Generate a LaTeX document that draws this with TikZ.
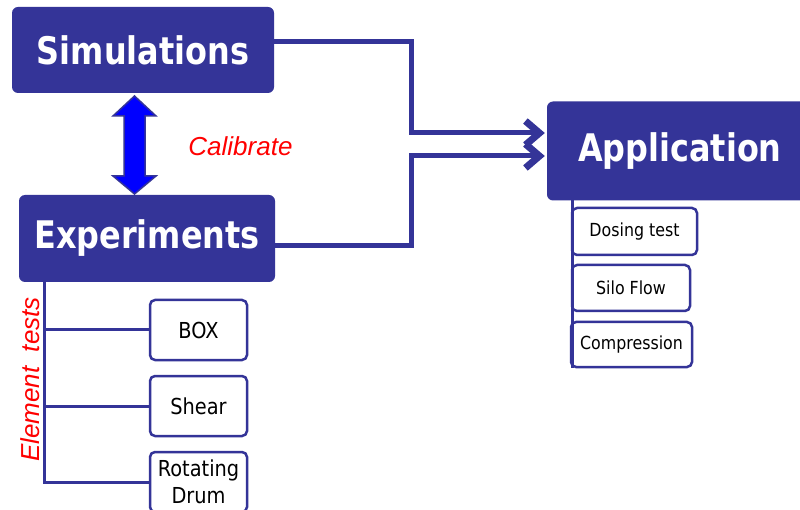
\documentclass[tikz,border=0pt]{standalone}
\usepackage{fontspec}
\setmainfont{Liberation Sans}
\newfontfamily\hdrfont[FakeStretch=0.84]{DejaVu Sans}
\newfontfamily\lblfont[FakeStretch=0.88]{DejaVu Sans}
\usetikzlibrary{arrows.meta}
\definecolor{navy}{RGB}{52,52,152}
\definecolor{calblue}{RGB}{0,0,255}
\definecolor{calred}{RGB}{255,0,0}
\begin{document}
\begin{tikzpicture}[x=1pt,y=-1pt,
  headbox/.style={fill=navy, rounded corners=6pt, text=white, inner sep=0pt,
    font=\hdrfont\bfseries\fontsize{38}{44}\selectfont},
  testbox/.style={draw=navy, line width=2.5pt, fill=white, rounded corners=5pt,
    inner sep=0pt, align=center, minimum width=97pt, minimum height=60pt,
    font=\lblfont\fontsize{22}{27}\selectfont},
  appbox/.style={draw=navy, line width=2.5pt, fill=white, rounded corners=5pt,
    inner sep=0pt, align=center, font=\lblfont\fontsize{18}{22}\selectfont},
  flow/.style={draw=navy, line width=5pt,
    -{Straight Barb[length=14pt,width=24pt,line width=7pt]}},
  tree/.style={draw=navy, line width=3pt},
  note/.style={text=calred, font=\itshape\fontsize{26}{30}\selectfont, inner sep=0pt},
  calarrow/.style={fill=calblue, draw=navy, line width=1.5pt, line join=miter}]
\useasboundingbox (0,0) rectangle (800,510);
\clip (0,0) rectangle (800,510);
\fill[white] (0,0) rectangle (800,510);

% main boxes
\node[headbox, minimum width=262pt, minimum height=86pt] (sim) at (143,50) {Simulations};
\node[headbox, minimum width=256pt, minimum height=87pt] (exp) at (147,238.5) {Experiments};
\node[headbox, minimum width=263pt, minimum height=99pt, text width=263pt, align=left] (app) at (678.5,151) {\hspace{31pt}Application};

% calibrate double arrow
\draw[calarrow] (134.5,96) -- (156,116) -- (145,116) -- (145,176) -- (156,176)
  -- (134.5,194) -- (113,176) -- (124,176) -- (124,116) -- (113,116) -- cycle;
\node[note] (cal) at (240.5,146) {Calibrate};

% flows to application
\draw[flow] (sim.east |- 0,42) -| (411,133) -- ([xshift=-2pt]app.west |- 0,133);
\draw[flow] (exp.east |- 0,246) -| (411,156) -- ([xshift=-2pt]app.west |- 0,156);

% element tests
\node[testbox] (box) at (198.5,330) {BOX};
\node[testbox] (shear) at (198.5,406) {Shear};
\node[testbox] (drum) at (198.5,482) {Rotating\\Drum};
\coordinate (t0) at (44,282);
\draw[tree] (t0) |- (drum.west);
\draw[tree] (t0 |- box.west) -- (box.west);
\draw[tree] (t0 |- shear.west) -- (shear.west);
\node[note, rotate=90, anchor=base] (elt) at (39,379.5) {Element\ \ tests};

% application tests
\node[appbox, minimum width=125pt, minimum height=47pt] (dose) at (634.5,231.5) {Dosing test};
\node[appbox, minimum width=118pt, minimum height=46pt] (silo) at (631,288) {Silo Flow};
\node[appbox, minimum width=121pt, minimum height=45pt] (comp) at (631.5,344.5) {Compression};
\coordinate (a0) at (572.5,200);
\draw[navy, line width=2.5pt] (a0) -- (a0 |- comp.south);
\end{tikzpicture}
\end{document}
